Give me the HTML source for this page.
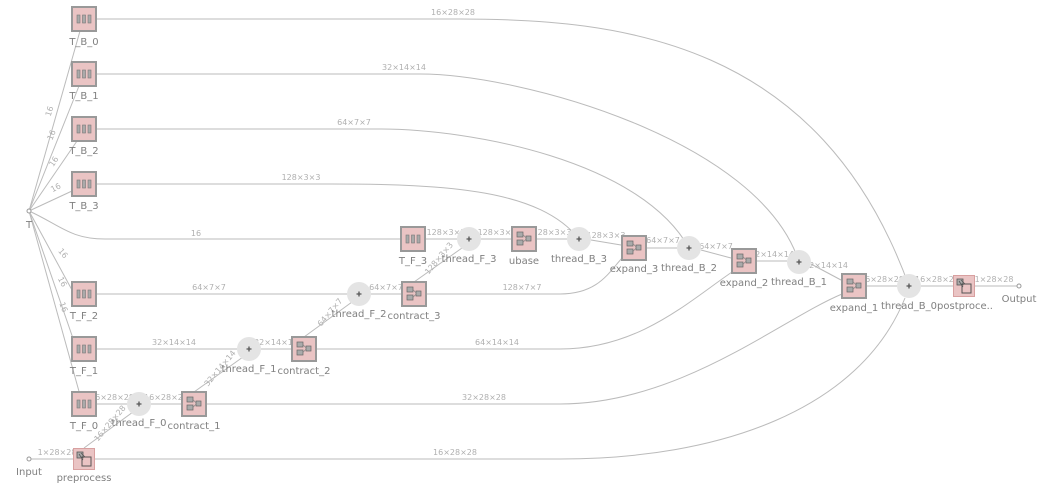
<!DOCTYPE html>
<html><head><meta charset="utf-8"><style>
html,body{margin:0;padding:0;background:#fff;width:1048px;height:488px;overflow:hidden}
svg{display:block}
.e{fill:none;stroke:#bbb;stroke-width:1}
.t{font-family:"DejaVu Sans","Liberation Sans",sans-serif;font-size:10px;fill:#808080;text-anchor:middle}
.l{font-family:"DejaVu Sans","Liberation Sans",sans-serif;font-size:8px;fill:#b0b0b0;text-anchor:middle}
</style></head><body>
<svg width="1048" height="488" viewBox="0 0 1048 488" xmlns="http://www.w3.org/2000/svg">
<defs>
<symbol id="vb" viewBox="0 0 26 26" width="26" height="26"><rect x="1" y="1" width="24" height="24" fill="#eac4c4" stroke="#999" stroke-width="2"/><rect x="6" y="9" width="3" height="8" fill="#aaa" stroke="#777" stroke-width=".6"/><rect x="11.5" y="9" width="3" height="8" fill="#aaa" stroke="#777" stroke-width=".6"/><rect x="17" y="9" width="3" height="8" fill="#aaa" stroke="#777" stroke-width=".6"/></symbol>
<symbol id="mb" viewBox="0 0 26 26" width="26" height="26"><rect x="1" y="1" width="24" height="24" fill="#eac4c4" stroke="#999" stroke-width="2"/><rect x="6" y="6" width="6" height="5" fill="#aaa" stroke="#666" stroke-width=".7"/><rect x="6" y="14" width="6" height="5" fill="#aaa" stroke="#666" stroke-width=".7"/><rect x="15" y="10" width="5" height="5" fill="#aaa" stroke="#666" stroke-width=".7"/><path d="M12 8.5 L15 12 M12 16.5 L15 13" stroke="#888" stroke-width=".6" fill="none"/></symbol>
<symbol id="pp" viewBox="0 0 22 22" width="22" height="22"><rect x=".5" y=".5" width="21" height="21" fill="#eac4c4" stroke="#d8a0a0"/><rect x="4" y="4" width="6" height="6" fill="#aaa" stroke="#555" stroke-width=".8"/><path d="M6 6 L10 12 M8 5 L12 9" stroke="#555" stroke-width=".8"/><rect x="9" y="9" width="9" height="9" fill="none" stroke="#555" stroke-width="1"/></symbol>
<symbol id="ad" viewBox="0 0 24 24" width="24" height="24"><circle cx="12" cy="12" r="12" fill="#e4e4e4"/><path d="M9.5 12h5M12 9.5v5" stroke="#555" stroke-width="1.3"/></symbol>
</defs>

<path class="e" d="M29 211 L80 31"/>
<path class="e" d="M29 211 L79 86"/>
<path class="e" d="M29 211 L77 141"/>
<path class="e" d="M29 211 L72 191"/>
<path class="e" d="M29 211 C60 225 70 239 105 239 L400 239"/>
<path class="e" d="M29 211 L72 290"/>
<path class="e" d="M29 211 L77 350"/>
<path class="e" d="M29 211 L80 395"/>
<text class="l" transform="translate(52,112) rotate(-73)">16</text>
<text class="l" transform="translate(54,136) rotate(-68)">16</text>
<text class="l" transform="translate(56,163) rotate(-57)">16</text>
<text class="l" transform="translate(57,190) rotate(-28)">16</text>
<text class="l" x="196" y="236">16</text>
<text class="l" transform="translate(61,255) rotate(50)">16</text>
<text class="l" transform="translate(60,283) rotate(63)">16</text>
<text class="l" transform="translate(61,308) rotate(70)">16</text>

<path class="e" d="M97 19 L460 19 C620 19 820 40 909 286"/>
<text class="l" x="453" y="15">16×28×28</text>
<path class="e" d="M97 74 L420 74 C520 74 760 140 799 262"/>
<text class="l" x="404" y="70">32×14×14</text>
<path class="e" d="M97 129 L380 129 C470 129 640 160 689 248"/>
<text class="l" x="354" y="125">64×7×7</text>
<path class="e" d="M97 184 L330 184 C450 184 540 190 579 239"/>
<text class="l" x="301" y="180">128×3×3</text>

<path class="e" d="M426 239 L457 239"/><text class="l" x="446" y="235">128×3×3</text>
<path class="e" d="M481 239 L511 239"/><text class="l" x="497" y="235">128×3×3</text>
<path class="e" d="M537 239 L567 239"/><text class="l" x="552" y="235">128×3×3</text>
<path class="e" d="M591 240 L621 245"/><text class="l" x="606" y="238">128×3×3</text>
<path class="e" d="M647 248 L677 248" stroke-width="1.5"/><text class="l" x="663" y="243">64×7×7</text>
<path class="e" d="M701 250 L731 258"/><text class="l" x="716" y="249">64×7×7</text>
<path class="e" d="M757 261 L787 261"/><text class="l" x="772" y="257">32×14×14</text>
<path class="e" d="M811 264 L841 280"/><text class="l" x="826" y="268">32×14×14</text>
<path class="e" d="M867 286 L897 286"/><text class="l" x="882" y="282">16×28×28</text>
<path class="e" d="M921 286 L953 286"/><text class="l" x="937" y="282">16×28×28</text>
<path class="e" d="M975 286 L1017 286"/><text class="l" x="994" y="282">1×28×28</text>

<path class="e" d="M97 294 L347 294"/><text class="l" x="209" y="290">64×7×7</text>
<path class="e" d="M371 294 L401 294"/><text class="l" x="386" y="290">64×7×7</text>
<path class="e" d="M414 282 L462 248"/><text class="l" transform="translate(441,260) rotate(-50)">128×3×3</text>
<path class="e" d="M427 294 L560 294 C600 294 610 270 624 256"/><text class="l" x="522" y="290">128×7×7</text>
<path class="e" d="M97 349 L237 349"/><text class="l" x="174" y="345">32×14×14</text>
<path class="e" d="M261 349 L291 349"/><text class="l" x="276" y="345">32×14×14</text>
<path class="e" d="M304 337 L352 302"/><text class="l" transform="translate(332,314) rotate(-50)">64×7×7</text>
<path class="e" d="M317 349 L560 349 C640 349 690 300 735 270"/><text class="l" x="497" y="345">64×14×14</text>
<path class="e" d="M97 404 L127 404"/><text class="l" x="112" y="400">16×28×28</text>
<path class="e" d="M151 404 L181 404"/><text class="l" x="166" y="400">16×28×28</text>
<path class="e" d="M194 392 L243 357"/><text class="l" transform="translate(222,370) rotate(-50)">32×14×14</text>
<path class="e" d="M207 404 L560 404 C680 404 780 320 842 294"/><text class="l" x="484" y="400">32×28×28</text>
<path class="e" d="M31 459 L73 459"/><text class="l" x="57" y="455">1×28×28</text>
<path class="e" d="M84 448 L133 412"/><text class="l" transform="translate(112,425) rotate(-50)">16×28×28</text>
<path class="e" d="M95 459 L560 459 C720 459 860 410 905 298"/><text class="l" x="455" y="455">16×28×28</text>

<circle cx="29" cy="211" r="2" fill="#fff" stroke="#999"/><text class="t" x="29" y="228">T</text>
<circle cx="29" cy="459" r="2" fill="#fff" stroke="#999"/><text class="t" x="29" y="475">Input</text>
<circle cx="1019" cy="286" r="2" fill="#fff" stroke="#999"/><text class="t" x="1019" y="302">Output</text>

<use href="#vb" x="71" y="6"/><text class="t" x="84" y="45">T_B_0</text>
<use href="#vb" x="71" y="61"/><text class="t" x="84" y="99">T_B_1</text>
<use href="#vb" x="71" y="116"/><text class="t" x="84" y="154">T_B_2</text>
<use href="#vb" x="71" y="171"/><text class="t" x="84" y="209">T_B_3</text>
<use href="#vb" x="400" y="226"/><text class="t" x="413" y="264">T_F_3</text>
<use href="#vb" x="71" y="281"/><text class="t" x="84" y="319">T_F_2</text>
<use href="#vb" x="71" y="336"/><text class="t" x="84" y="374">T_F_1</text>
<use href="#vb" x="71" y="391"/><text class="t" x="84" y="429">T_F_0</text>

<use href="#ad" x="457" y="227"/><text class="t" x="469" y="262">thread_F_3</text>
<use href="#mb" x="511" y="226"/><text class="t" x="524" y="264">ubase</text>
<use href="#ad" x="567" y="227"/><text class="t" x="579" y="262">thread_B_3</text>
<use href="#mb" x="621" y="235"/><text class="t" x="634" y="272">expand_3</text>
<use href="#ad" x="677" y="236"/><text class="t" x="689" y="271">thread_B_2</text>
<use href="#mb" x="731" y="248"/><text class="t" x="744" y="286">expand_2</text>
<use href="#ad" x="787" y="250"/><text class="t" x="799" y="285">thread_B_1</text>
<use href="#mb" x="841" y="273"/><text class="t" x="854" y="311">expand_1</text>
<use href="#ad" x="897" y="274"/><text class="t" x="909" y="309">thread_B_0</text>
<use href="#pp" x="953" y="275"/><text class="t" x="965" y="309">postproce..</text>

<use href="#ad" x="347" y="282"/><text class="t" x="359" y="317">thread_F_2</text>
<use href="#mb" x="401" y="281"/><text class="t" x="414" y="319">contract_3</text>
<use href="#ad" x="237" y="337"/><text class="t" x="249" y="372">thread_F_1</text>
<use href="#mb" x="291" y="336"/><text class="t" x="304" y="374">contract_2</text>
<use href="#ad" x="127" y="392"/><text class="t" x="139" y="426">thread_F_0</text>
<use href="#mb" x="181" y="391"/><text class="t" x="194" y="429">contract_1</text>
<use href="#pp" x="73" y="448"/><text class="t" x="84" y="481">preprocess</text>
</svg>
</body></html>
